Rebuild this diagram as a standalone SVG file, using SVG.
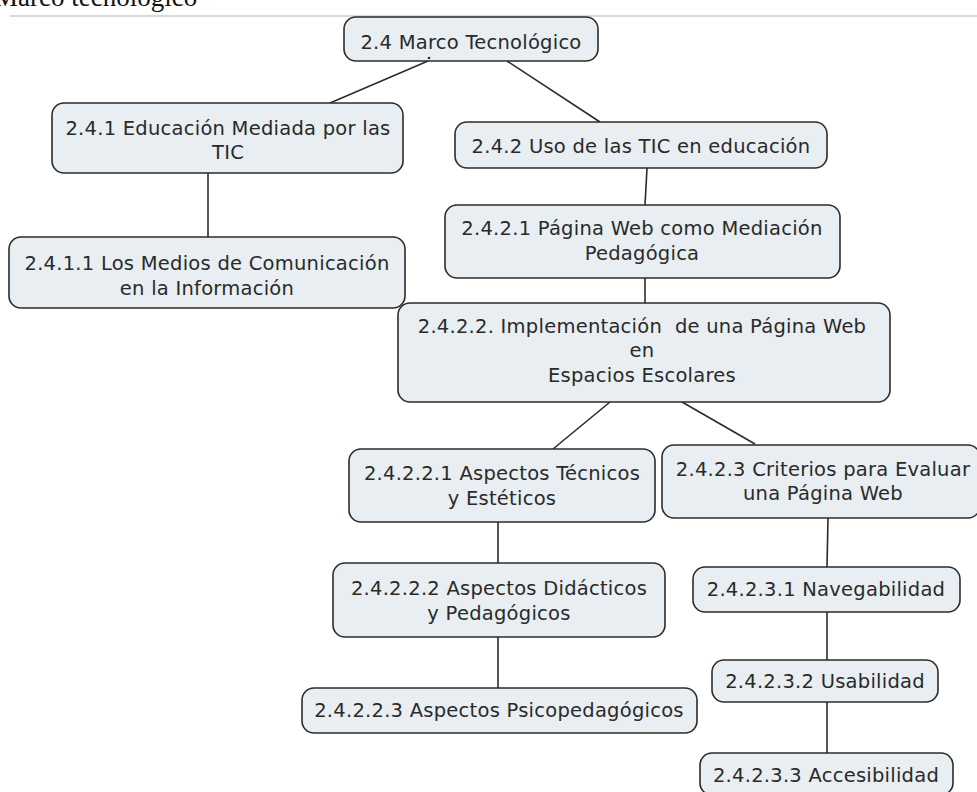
<svg xmlns="http://www.w3.org/2000/svg" width="977" height="792" viewBox="0 0 977 792">
<style>
.n rect{fill:#e8eef1;stroke:#2b2b2b;stroke-width:1.6}
.n text{font-family:"DejaVu Sans",Verdana,sans-serif;font-size:19.5px;letter-spacing:0.25px;fill:#2a2a2a;text-anchor:middle;white-space:pre}
.c line{stroke:#2b2b2b;stroke-width:1.6}
</style>
<rect width="977" height="792" fill="#ffffff"/>
<text x="-6" y="6" font-family="'Liberation Serif',serif" font-size="27" fill="#111">Marco tecnológico</text>
<line x1="10" y1="16" x2="977" y2="16" stroke="#cccccc" stroke-width="1.5"/>
<g class="c">
<line x1="428" y1="61" x2="330" y2="103"/>
<line x1="507" y1="61" x2="600" y2="122"/>
<line x1="208" y1="173" x2="208" y2="237"/>
<line x1="647" y1="168" x2="645" y2="205"/>
<line x1="645" y1="278" x2="645" y2="303"/>
<line x1="610" y1="402" x2="553" y2="449"/>
<line x1="682" y1="402" x2="755" y2="444"/>
<line x1="498" y1="522" x2="498" y2="563"/>
<line x1="498" y1="637" x2="498" y2="688"/>
<line x1="828" y1="518" x2="827" y2="567" stroke-width="2.2"/>
<line x1="827" y1="612" x2="827" y2="660" stroke-width="2"/>
<line x1="827" y1="702" x2="827" y2="753"/>
</g>
<g id="n_root" class="n"><rect x="344" y="17" width="254" height="44" rx="12"/><text x="471" y="49">2.4 Marco Tecnológico</text><circle cx="429" cy="58" r="1.3" fill="#2b2b2b"/></g>
<g id="n_241" class="n"><rect x="52" y="103" width="351" height="70" rx="12"/><text x="228" y="135">2.4.1 Educación Mediada por las</text><text x="228" y="159">TIC</text></g>
<g id="n_2411" class="n"><rect x="9" y="237" width="396" height="71" rx="12"/><text x="207" y="270">2.4.1.1 Los Medios de Comunicación</text><text x="207" y="295">en la Información</text></g>
<g id="n_242" class="n"><rect x="455" y="122" width="372" height="46" rx="12"/><text x="641" y="153">2.4.2 Uso de las TIC en educación</text></g>
<g id="n_2421" class="n"><rect x="445" y="205" width="395" height="73" rx="12"/><text x="642" y="235">2.4.2.1 Página Web como Mediación</text><text x="642" y="260">Pedagógica</text></g>
<g id="n_2422" class="n"><rect x="398" y="303" width="492" height="99" rx="12"/><text x="642" y="333">2.4.2.2. Implementación  de una Página Web</text><text x="642" y="357">en</text><text x="642" y="382">Espacios Escolares</text></g>
<g id="n_24221" class="n"><rect x="349" y="449" width="306" height="73" rx="12"/><text x="502" y="480">2.4.2.2.1 Aspectos Técnicos</text><text x="502" y="505">y Estéticos</text></g>
<g id="n_24222" class="n"><rect x="333" y="563" width="332" height="74" rx="12"/><text x="499" y="595">2.4.2.2.2 Aspectos Didácticos</text><text x="499" y="620">y Pedagógicos</text></g>
<g id="n_24223" class="n"><rect x="302" y="688" width="395" height="45" rx="12"/><text x="499" y="717">2.4.2.2.3 Aspectos Psicopedagógicos</text></g>
<g id="n_2423" class="n"><rect x="662" y="445" width="318" height="73" rx="12"/><text x="823" y="476">2.4.2.3 Criterios para Evaluar</text><text x="823" y="500">una Página Web</text></g>
<g id="n_24231" class="n"><rect x="693" y="567" width="267" height="45" rx="12"/><text x="826" y="596">2.4.2.3.1 Navegabilidad</text></g>
<g id="n_24232" class="n"><rect x="712" y="660" width="226" height="42" rx="12"/><text x="825" y="688">2.4.2.3.2 Usabilidad</text></g>
<g id="n_24233" class="n"><rect x="700" y="753" width="253" height="42" rx="12"/><text x="826" y="782">2.4.2.3.3 Accesibilidad</text></g>
</svg>
